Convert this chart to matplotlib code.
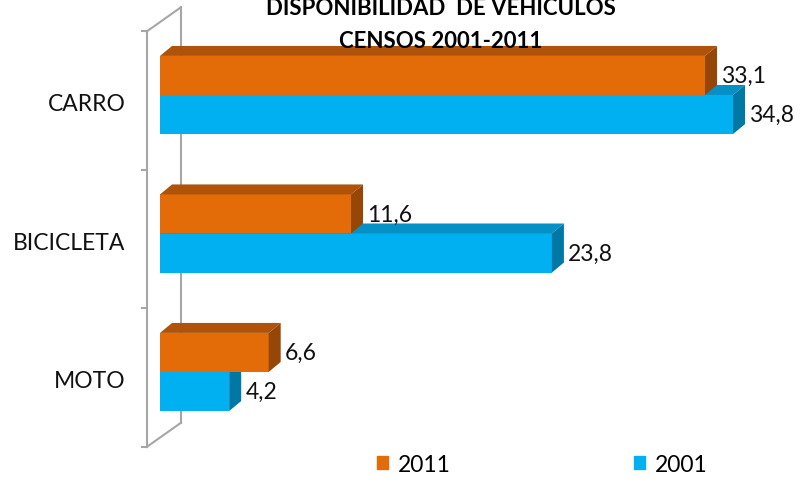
import numpy as np
import matplotlib.pyplot as plt
from matplotlib.patches import Polygon, Patch

plt.rcParams['font.family'] = ['Lato', 'DejaVu Sans']

# datos (de abajo hacia arriba)
categorias = ['MOTO', 'BICICLETA', 'CARRO']
valores_2011 = [6.6, 11.6, 33.1]
valores_2001 = [4.2, 23.8, 34.8]
series = ['2011', '2001']
titulo = 'DISPONIBILIDAD  DE VEHICULOS\nCENSOS 2001-2011'

# colores: frente, arriba, lado
naranja = ('#E36C09', '#B0530A', '#964707')
azul = ('#00B0F0', '#0590C6', '#0078A6')

# profundidad 3d en unidades de datos
dx = 0.73
dy = 0.072
alto = 0.282


def fmt(v):
    return ('%.1f' % v).replace('.', ',')


def barras3d(ax, ys, vals, colores, z):
    ax.barh(ys, vals, height=alto, align='edge', color=colores[0], zorder=z)
    for y0, v in zip(ys, vals):
        top = [(0, y0 + alto), (dx, y0 + alto + dy), (v + dx, y0 + alto + dy), (v, y0 + alto)]
        side = [(v, y0), (v + dx, y0 + dy), (v + dx, y0 + alto + dy), (v, y0 + alto)]
        ax.add_patch(Polygon(top, closed=True, color=colores[1], zorder=z, lw=0))
        ax.add_patch(Polygon(side, closed=True, color=colores[2], zorder=z, lw=0))
        ax.text(v + dx + 0.25, y0 + alto / 2, fmt(v), ha='left', va='center',
                fontsize=16.5, color='#111111', zorder=z + 1)


fig = plt.figure(figsize=(8.03, 4.85), dpi=100)
ax = fig.add_axes([0, 0, 1, 1])
ax.axis('off')
ax.set_xlim(-9.717, 39.05)
ax.set_ylim(-0.809, 2.693)

pos = np.arange(len(categorias))

# pared del eje
gris = '#A6A6A6'
xf = -0.79
ddx = 2.06
ddy = 0.173
limites = np.arange(-0.5, len(categorias)) - 0.04
b0, b3 = limites[0], limites[-1]
ax.plot([xf, xf], [b0, b3], color=gris, lw=1.5, zorder=1)
ax.plot([xf + ddx, xf + ddx], [b0 + ddy, b3 + ddy], color=gris, lw=1.5, zorder=1)
ax.plot([xf, xf + ddx], [b0, b0 + ddy], color=gris, lw=1.5, zorder=1)
ax.plot([xf, xf + ddx], [b3, b3 + ddy], color=gris, lw=1.5, zorder=1)
for b in limites:
    ax.plot([xf - 0.3, xf], [b, b], color=gris, lw=1.5, zorder=1)

for p, c in zip(pos, categorias):
    ax.text(-2.1, p - 0.065, c, ha='right', va='center', fontsize=16.5, color='#111111')

barras3d(ax, pos - alto, valores_2001, azul, 2)
barras3d(ax, pos, valores_2011, naranja, 4)

fig.text(0.549, 1 - 15 / 485, titulo.split('\n')[0], ha='center', va='baseline',
         fontsize=16, fontweight='bold', color='black')
fig.text(0.549, 1 - 48 / 485, titulo.split('\n')[1], ha='center', va='baseline',
         fontsize=16, fontweight='bold', color='black')

fig.legend(handles=[Patch(color=naranja[0]), Patch(color=azul[0])], labels=series,
           loc='center', bbox_to_anchor=(0.675, 0.041), ncol=2, frameon=False,
           handlelength=0.5, handleheight=0.5, handletextpad=0.4, columnspacing=8,
           fontsize=16.5)

fig.savefig('out.png', dpi=100)
